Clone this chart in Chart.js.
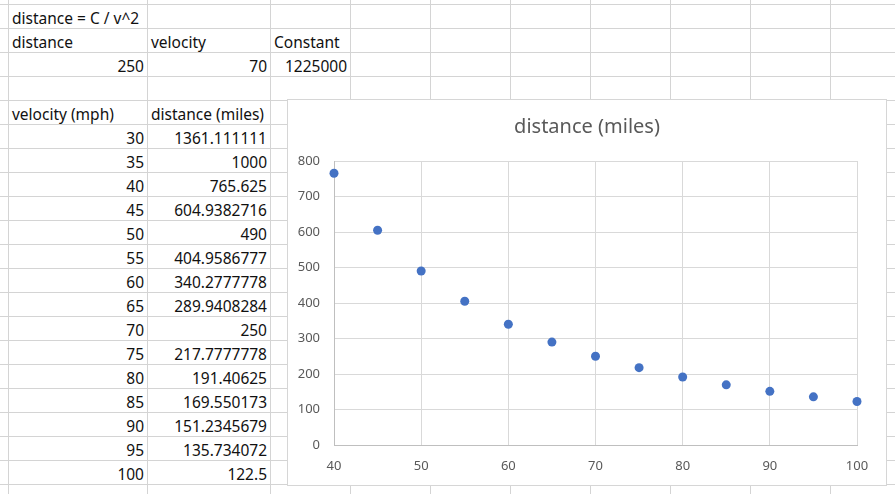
<!DOCTYPE html>
<html>
<head>
<meta charset="utf-8">
<script src="https://cdn.jsdelivr.net/npm/chart.js@4.4.1/dist/chart.umd.min.js"></script>
<style>
    html, body {
        margin: 0;
        padding: 0;
        background: #fff;
        width: 895px;
        height: 494px;
        overflow: hidden;
        font-family: 'Noto Sans', sans-serif;
    }
    #sheet {
        position: absolute;
        left: 0;
        top: 0;
        width: 895px;
        height: 494px;
    }
    .vline, .hline {
        position: absolute;
        background: #d4d4d4;
    }
    .cell {
        position: absolute;
        height: 24px;
        line-height: 24px;
        font-size: 15.5px;
        color: #111;
        white-space: nowrap;
    }
    .right {
        text-align: right;
    }
    #chartBox {
        position: absolute;
        left: 287px;
        top: 99px;
        width: 598px;
        height: 385px;
        background: #fff;
        border: 1px solid #d6d6d6;
    }
</style>
</head>
<body>
<div id="sheet"></div>
<div id="chartBox"><canvas id="distanceChart"></canvas></div>
<script>
// Values from the sheet
const formulaText = 'distance = C / v^2';
const headerLabels = ['distance', 'velocity', 'Constant'];
const headerValues = [250, 70, 1225000];
const tableHeaders = ['velocity (mph)', 'distance (miles)'];
const velocities = [30, 35, 40, 45, 50, 55, 60, 65, 70, 75, 80, 85, 90, 95, 100];
const distances = [1361.111111, 1000, 765.625, 604.9382716, 490, 404.9586777, 340.2777778,
    289.9408284, 250, 217.7777778, 191.40625, 169.550173, 151.2345679, 135.734072, 122.5];
const chartTitle = 'distance (miles)';
const xTicks = [40, 50, 60, 70, 80, 90, 100];
const yTicks = [0, 100, 200, 300, 400, 500, 600, 700, 800];

// Spreadsheet grid
const colLines = [8, 147, 270, 350, 430, 510, 590, 670, 750, 830];
const rowTop = 4;
const rowHeight = 24;
const sheet = document.getElementById('sheet');

colLines.forEach(x => {
    const d = document.createElement('div');
    d.className = 'vline';
    d.style.cssText = `left:${x}px;top:0;width:1px;height:494px;`;
    sheet.appendChild(d);
});
for (let y = rowTop; y < 494; y += rowHeight) {
    const d = document.createElement('div');
    d.className = 'hline';
    d.style.cssText = `left:0;top:${y}px;width:895px;height:1px;`;
    sheet.appendChild(d);
}

function addCell(text, col, row, align) {
    const c = document.createElement('div');
    c.className = 'cell' + (align === 'right' ? ' right' : '');
    const left = colLines[col];
    const right = colLines[col + 1];
    c.style.left = (left + 4) + 'px';
    c.style.width = (right - left - 7) + 'px';
    c.style.top = (rowTop + row * rowHeight + 2) + 'px';
    c.textContent = text;
    sheet.appendChild(c);
}

addCell(formulaText, 0, 0);
headerLabels.forEach((t, i) => addCell(t, i, 1));
headerValues.forEach((v, i) => addCell(String(v), i, 2, 'right'));
tableHeaders.forEach((t, i) => addCell(t, i, 4));
velocities.forEach((v, i) => {
    addCell(String(v), 0, 5 + i, 'right');
    addCell(String(distances[i]), 1, 5 + i, 'right');
});

// Scatter chart
Chart.defaults.font.family = "'Noto Sans', sans-serif";
Chart.defaults.color = '#595959';

const ctx = document.getElementById('distanceChart').getContext('2d');
new Chart(ctx, {
    type: 'scatter',
    data: {
        datasets: [{
            data: velocities.map((v, i) => ({ x: v, y: distances[i] })),
            backgroundColor: '#4472c4',
            borderColor: '#4472c4',
            borderWidth: 0,
            pointRadius: 4.5,
            pointHoverRadius: 4.5,
            clip: 6
        }]
    },
    options: {
        responsive: true,
        maintainAspectRatio: false,
        animation: false,
        layout: {
            padding: 0
        },
        plugins: {
            legend: { display: false },
            tooltip: { enabled: false },
            title: {
                display: true,
                text: chartTitle,
                color: '#595959',
                font: { size: 20, weight: 'normal' },
                padding: { top: 15, bottom: 22 }
            }
        },
        scales: {
            x: {
                type: 'linear',
                min: xTicks[0],
                max: xTicks[xTicks.length - 1],
                afterBuildTicks: s => { s.ticks = xTicks.map(v => ({ value: v })); },
                afterFit: s => { s.height = 40; s.paddingRight = 29; },
                grid: { color: '#d9d9d9', drawTicks: false },
                border: { color: '#bfbfbf' },
                ticks: { padding: 13, font: { size: 13 }, color: '#595959' }
            },
            y: {
                type: 'linear',
                min: yTicks[0],
                max: yTicks[yTicks.length - 1],
                afterBuildTicks: s => { s.ticks = yTicks.map(v => ({ value: v })); },
                afterFit: s => { s.width = 46; },
                grid: { color: '#d9d9d9', drawTicks: false },
                border: { color: '#bfbfbf' },
                ticks: { padding: 14, font: { size: 13 }, color: '#595959' }
            }
        }
    }
});
</script>
</body>
</html>
